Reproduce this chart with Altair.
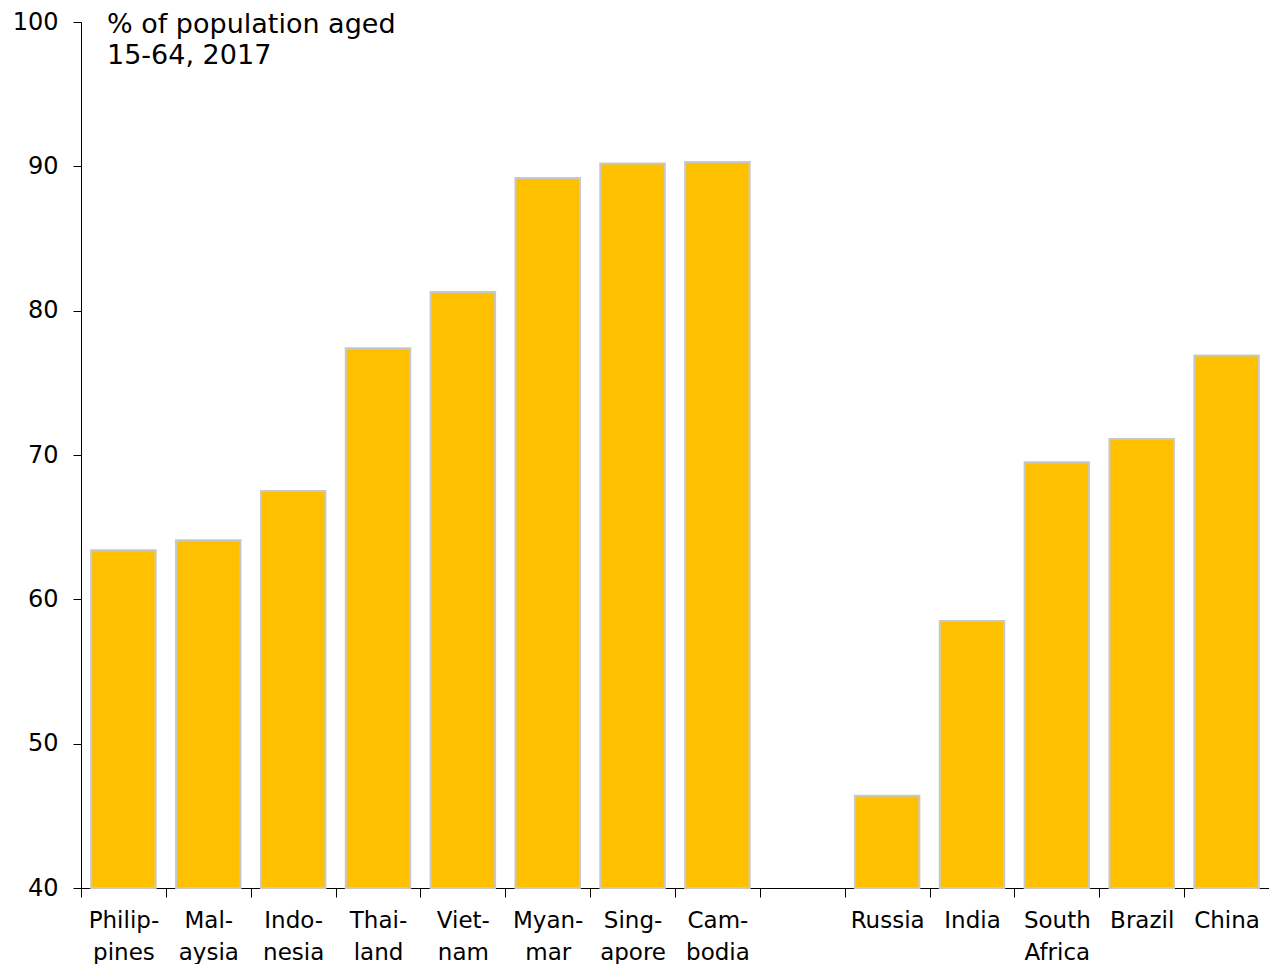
import altair as alt
import pandas as pd

categories = ["Philip-|pines", "Mal-|aysia", "Indo-|nesia", "Thai-|land", "Viet-|nam",
              "Myan-|mar", "Sing-|apore", "Cam-|bodia", " ",
              "Russia", "India", "South|Africa", "Brazil", "China"]
bar_categories = ["Philip-|pines", "Mal-|aysia", "Indo-|nesia", "Thai-|land", "Viet-|nam",
                  "Myan-|mar", "Sing-|apore", "Cam-|bodia",
                  "Russia", "India", "South|Africa", "Brazil", "China"]
values = [63.4, 64.1, 67.5, 77.4, 81.3, 89.2, 90.2, 90.3,
          46.4, 58.5, 69.5, 71.1, 76.9]
y_ticks = [40, 50, 60, 70, 80, 90, 100]
title_lines = "% of population aged\n15-64, 2017"

df = pd.DataFrame({"country": bar_categories, "value": values})

FONT = "DejaVu Sans"

bars = alt.Chart(df).mark_bar(
    color="#FFC000", stroke="#C8C8C8", strokeWidth=2,
    width=alt.RelativeBandSize(0.76)
).encode(
    x=alt.X("country:N", sort=categories,
            scale=alt.Scale(domain=categories, paddingInner=0, paddingOuter=0),
            axis=alt.Axis(title=None, labelAngle=0, tickBand="extent", tickSize=9,
                          labelExpr="split(datum.label, '|')", labelFont=FONT,
                          labelFontSize=23, labelLineHeight=32, labelPadding=12,
                          labelColor="#000000", domainColor="#000000", tickColor="#000000",
                          labelBaseline="top")),
    y=alt.Y("value:Q", scale=alt.Scale(domain=[40, 100], zero=False, nice=False),
            axis=alt.Axis(title=None, values=y_ticks, grid=False, tickSize=8,
                          labelFont=FONT, labelFontSize=24, labelPadding=15,
                          labelColor="#000000", domainColor="#000000", tickColor="#000000")),
    y2=alt.datum(40),
)

title = alt.Chart(pd.DataFrame({"a": [0]})).mark_text(
    align="left", baseline="alphabetic", font=FONT, fontSize=27,
    lineBreak="\n", lineHeight=31, color="#000000"
).encode(
    x=alt.value(26), y=alt.value(11), text=alt.value(title_lines)
)

chart = alt.layer(bars, title).properties(
    width=1188, height=866,
    autosize=alt.AutoSizeParams(type="none"),
    padding={"left": 73, "top": 14, "right": 0, "bottom": 76},
).configure_view(stroke=None).configure_axis(domainWidth=1, tickWidth=1)

chart.save("out.html", embed_options={"renderer": "svg", "actions": False})
